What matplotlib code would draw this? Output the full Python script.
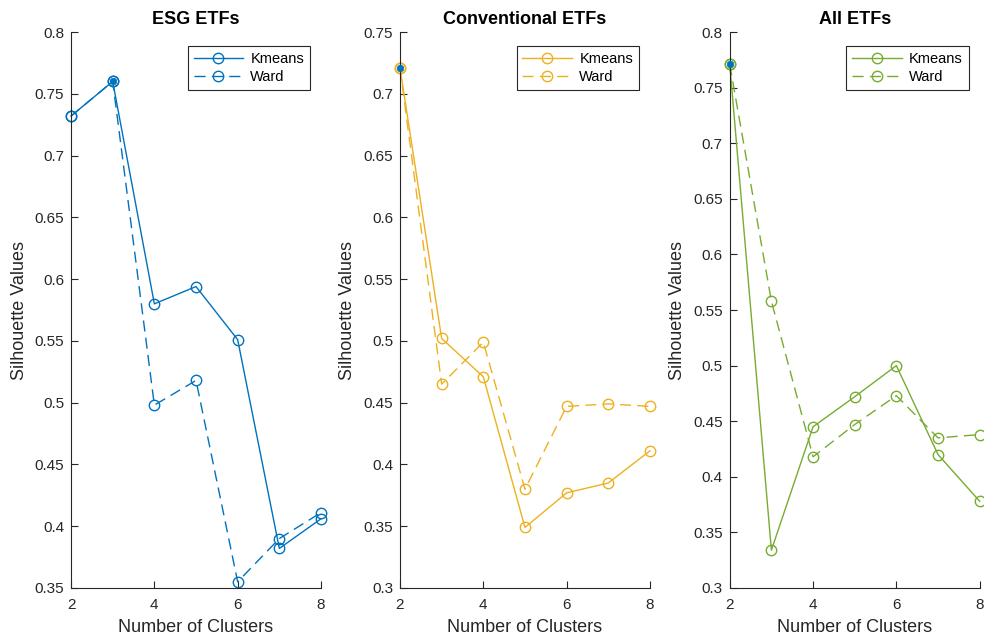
import numpy as np
import matplotlib.pyplot as plt

plt.rcParams['font.family'] = ['Liberation Sans', 'DejaVu Sans']

# silhouette values
clusters = [2, 3, 4, 5, 6, 7, 8]

esg_kmeans = [0.732, 0.760, 0.580, 0.594, 0.551, 0.382, 0.406]
esg_ward = [0.732, 0.760, 0.498, 0.518, 0.355, 0.390, 0.411]

conv_kmeans = [0.721, 0.502, 0.471, 0.349, 0.377, 0.385, 0.411]
conv_ward = [0.721, 0.465, 0.499, 0.380, 0.447, 0.449, 0.447]

all_kmeans = [0.771, 0.334, 0.445, 0.472, 0.500, 0.420, 0.378]
all_ward = [0.771, 0.558, 0.418, 0.447, 0.473, 0.435, 0.438]

# best k for each group (filled dot)
best_k = [3, 2, 2]
best_val = [0.760, 0.721, 0.771]

titles = ['ESG ETFs', 'Conventional ETFs', 'All ETFs']
colours = ['#0072BD', '#EDB120', '#77AC30']
ylims = [(0.35, 0.8), (0.3, 0.75), (0.3, 0.8)]
series = [(esg_kmeans, esg_ward), (conv_kmeans, conv_ward), (all_kmeans, all_ward)]

fig = plt.figure(figsize=(9.84, 6.41), dpi=100)
lefts = [0.0722, 0.4065, 0.7416]
ax_w = 0.254
bottom, top = 0.0827, 0.950
axis_col = '#262626'

for i in range(3):
    ax = fig.add_axes([lefts[i], bottom, ax_w, top - bottom])
    km, wd = series[i]
    c = colours[i]
    ax.plot(clusters, km, '-', color=c, lw=1.0, marker='o', ms=7.5,
            mfc='none', mec=c, mew=1.0, clip_on=False, label='Kmeans')
    ax.plot(clusters, wd, '--', color=c, lw=1.0, marker='o', ms=7.5,
            mfc='none', mec=c, mew=1.0, dashes=(8, 4.5), clip_on=False, label='Ward')
    ax.plot([best_k[i]], [best_val[i]], 'o', color='#0072BD', ms=4.8,
            mec='#0072BD', mew=0.5, clip_on=False, zorder=5)

    ax.set_xlim(2, 8)
    ax.set_ylim(*ylims[i])
    ax.set_xticks([2, 4, 6, 8])
    yt = np.arange(ylims[i][0], ylims[i][1] + 0.001, 0.05)
    ax.set_yticks(yt)
    ax.set_yticklabels(['%g' % round(v, 2) for v in yt])

    for s in ['top', 'right']:
        ax.spines[s].set_visible(False)
    for s in ['left', 'bottom']:
        ax.spines[s].set_color(axis_col)
        ax.spines[s].set_linewidth(0.8)
    ax.tick_params(direction='in', length=5, width=0.8, colors=axis_col,
                   labelsize=11)
    ax.tick_params(axis='x', pad=7)
    ax.tick_params(axis='y', pad=5)

    ax.set_title(titles[i], fontsize=13, fontweight='bold', pad=6)
    ax.set_xlabel('Number of Clusters', fontsize=13, color=axis_col, labelpad=5)
    ax.set_ylabel('Silhouette Values', fontsize=13, color=axis_col, labelpad=5)

    leg = ax.legend(loc='upper right', bbox_to_anchor=(0.956, 0.975),
                    fontsize=10.5, handlelength=3.4, handletextpad=0.5,
                    borderpad=0.4, labelspacing=0.3, fancybox=False,
                    framealpha=1, borderaxespad=0)
    leg.get_frame().set_edgecolor('#262626')
    leg.get_frame().set_linewidth(0.8)

fig.savefig('out.png', dpi=100)
